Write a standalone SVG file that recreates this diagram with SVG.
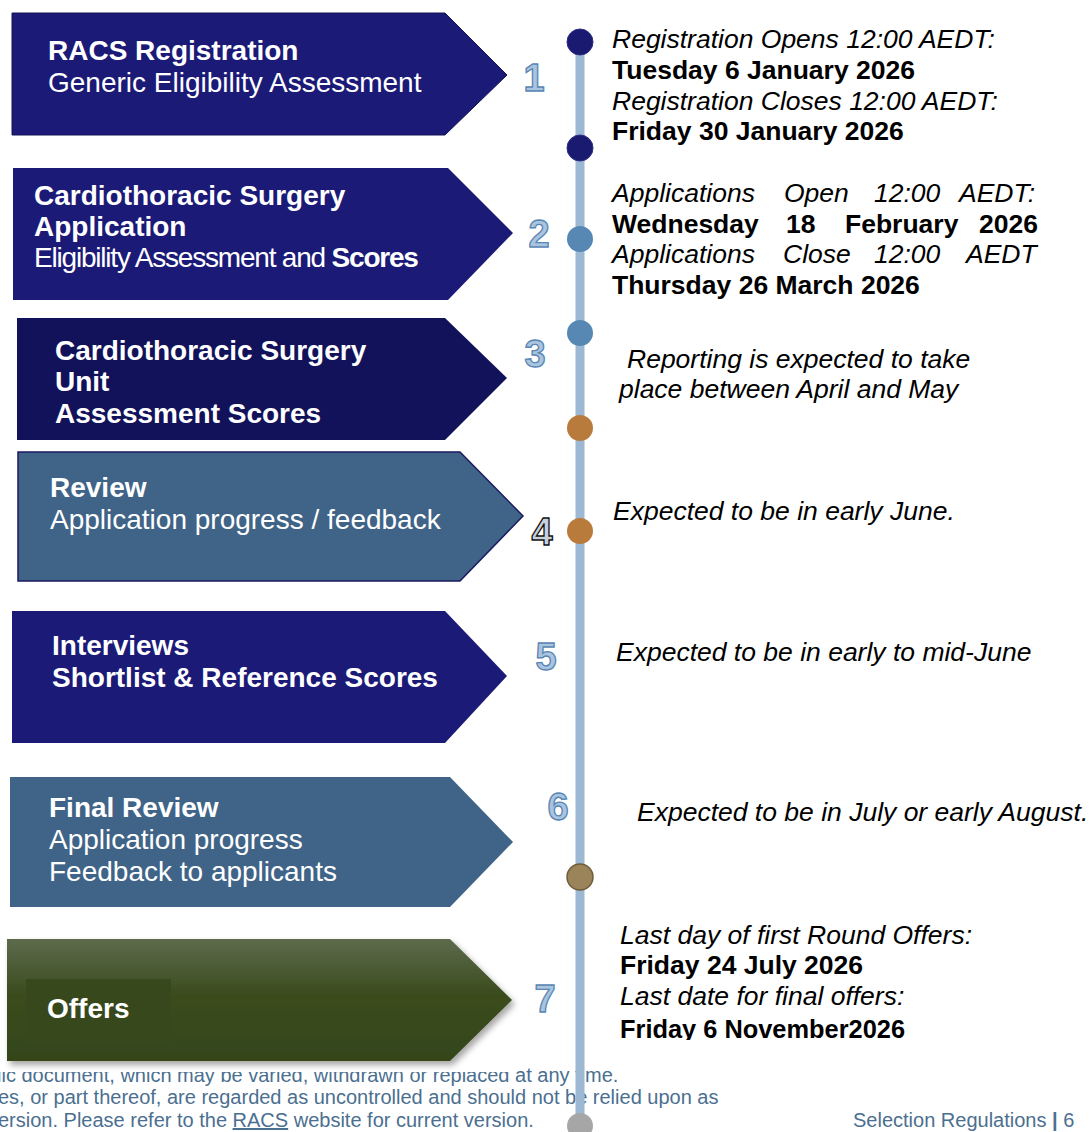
<svg xmlns="http://www.w3.org/2000/svg" width="1091" height="1132" viewBox="0 0 1091 1132">
<defs>
<style>
.t{font-family:"Liberation Sans",Arial,sans-serif;fill:#fff;font-size:28px}
.b{font-weight:bold}
.r{font-family:"Liberation Sans",Arial,sans-serif;fill:#000;font-size:26.5px}
.i{font-style:italic}
.num{font-family:"Liberation Sans",Arial,sans-serif;font-weight:bold;font-size:38px;fill:#a9c4df;stroke:#5a86b3;stroke-width:1.3;text-anchor:middle}
.foot{font-family:"Liberation Sans",Arial,sans-serif;font-size:20px;fill:#4b6f90}
.navy{fill:#1b1a77}
.steel{fill:#3f6487}
.dot-navy{fill:#1a1a70;stroke:#2c2c85;stroke-width:1}
.dot-steel{fill:#5688b3}
.dot-orange{fill:#b97b3c}
</style>
<linearGradient id="green" x1="0" y1="0" x2="0" y2="1">
<stop offset="0" stop-color="#5d6b4c"/>
<stop offset="0.45" stop-color="#3b4c1f"/>
<stop offset="1" stop-color="#344519"/>
</linearGradient>
<filter id="sh" x="-5%" y="-5%" width="115%" height="125%">
<feDropShadow dx="3" dy="4" stdDeviation="3" flood-color="#000" flood-opacity="0.35"/>
</filter>
<clipPath id="clipFoot1"><rect x="0" y="1072" width="516" height="25"/><rect x="516" y="1060" width="575" height="37"/></clipPath>
<clipPath id="clipLast"><rect x="600" y="1005" width="400" height="35"/></clipPath>
</defs>
<rect width="1091" height="1132" fill="#fff"/>

<g id="footer">
<text class="foot" x="-3" y="1082" clip-path="url(#clipFoot1)">lic document, which may be varied, withdrawn or replaced at any time.</text>
<text class="foot" x="-2" y="1104">es, or part thereof, are regarded as uncontrolled and should not be relied upon as</text>
<text class="foot" x="-2" y="1127">ersion. Please refer to the <tspan text-decoration="underline">RACS</tspan> website for current version.</text>
<text class="foot" x="853" y="1127">Selection Regulations <tspan font-weight="bold">|</tspan> 6</text>
</g>

<g id="connectors">
<line x1="580" y1="42" x2="580" y2="1132" stroke="#9cb8d3" stroke-width="9"/>
</g>

<g id="node-1">
<polygon class="navy" points="12,13 445,13 507,75 445,135 12,135" stroke="#14145a" stroke-width="1"/>
<text class="t b" x="48" y="60">RACS Registration</text>
<text class="t" x="48" y="92">Generic Eligibility Assessment</text>
<text class="num" x="534" y="91">1</text>
</g>

<g id="node-2">
<polygon class="navy" points="13,168 448,168 513,233 448,300 13,300"/>
<text class="t b" x="34" y="205">Cardiothoracic Surgery</text>
<text class="t b" x="34" y="236">Application</text>
<text class="t" x="34" y="267" font-size="25.5" letter-spacing="-1.2">Eligibility Assessment and <tspan font-weight="bold">Scores</tspan></text>
<text class="num" x="539" y="247">2</text>
</g>

<g id="node-3">
<polygon points="17,318 445,318 507,378 445,440 17,440" fill="#12125a"/>
<text class="t b" x="55" y="360">Cardiothoracic Surgery</text>
<text class="t b" x="55" y="391">Unit</text>
<text class="t b" x="55" y="423">Assessment Scores</text>
<text class="num" x="535" y="367">3</text>
</g>

<g id="node-4">
<polygon class="steel" points="18,452 460,452 523,516 460,581 18,581" stroke="#1a1a60" stroke-width="1.5"/>
<text class="t b" x="50" y="497">Review</text>
<text class="t" x="50" y="529">Application progress / feedback</text>
<text class="num" x="542" y="545" style="fill:#c9d2dc;stroke:#111">4</text>
</g>

<g id="node-5">
<polygon class="navy" points="12,611 445,611 507,676 445,743 12,743"/>
<text class="t b" x="52" y="655">Interviews</text>
<text class="t b" x="52" y="687">Shortlist &amp; Reference Scores</text>
<text class="num" x="546" y="670">5</text>
</g>

<g id="node-6">
<polygon class="steel" points="10,777 450,777 513,842 450,907 10,907"/>
<text class="t b" x="49" y="817">Final Review</text>
<text class="t" x="49" y="849">Application progress</text>
<text class="t" x="49" y="881">Feedback to applicants</text>
<text class="num" x="558" y="820">6</text>
</g>

<g id="node-7">
<polygon points="7,939 450,939 512,1000 450,1061 7,1061" fill="url(#green)" filter="url(#sh)"/>
<rect x="26" y="979" width="145" height="64" fill="#37491c"/>
<text class="t b" x="47" y="1018">Offers</text>
<text class="num" x="545" y="1012">7</text>
</g>

<g id="milestones">
<circle class="dot-navy" cx="580" cy="42" r="13"/>
<circle class="dot-navy" cx="580" cy="148" r="13"/>
<circle class="dot-steel" cx="580" cy="239" r="13"/>
<circle class="dot-steel" cx="580" cy="333" r="13"/>
<circle class="dot-orange" cx="580" cy="428" r="13"/>
<circle class="dot-orange" cx="580" cy="531" r="13"/>
<circle cx="580" cy="877" r="13" fill="#9b8459" stroke="#6e5c3a" stroke-width="1.5"/>
<circle cx="580" cy="1126" r="13" fill="#a6a6a6"/>
</g>

<g id="dates">
<text class="r i" x="612" y="48">Registration Opens 12:00 AEDT:</text>
<text class="r b" x="612" y="79">Tuesday 6 January 2026</text>
<text class="r i" x="612" y="110">Registration Closes 12:00 AEDT:</text>
<text class="r b" x="612" y="140">Friday 30 January 2026</text>

<text class="r i" y="202"><tspan x="612">Applications</tspan><tspan x="784">Open</tspan><tspan x="874">12:00</tspan><tspan x="959">AEDT:</tspan></text>
<text class="r b" y="233"><tspan x="612">Wednesday</tspan><tspan x="786">18</tspan><tspan x="845">February</tspan><tspan x="979">2026</tspan></text>
<text class="r i" y="263"><tspan x="612">Applications</tspan><tspan x="783">Close</tspan><tspan x="874">12:00</tspan><tspan x="966">AEDT</tspan></text>
<text class="r b" x="612" y="294">Thursday 26 March 2026</text>

<text class="r i" x="627" y="368">Reporting is expected to take</text>
<text class="r i" x="619" y="398">place between April and May</text>

<text class="r i" x="613" y="520">Expected to be in early June.</text>
<text class="r i" x="616" y="661">Expected to be in early to mid-June</text>
<text class="r i" x="637" y="821">Expected to be in July or early August.</text>

<text class="r i" x="620" y="944">Last day of first Round Offers:</text>
<text class="r b" x="620" y="974">Friday 24 July 2026</text>
<text class="r i" x="620" y="1005">Last date for final offers:</text>
<text class="r b" x="620" y="1038" textLength="285" lengthAdjust="spacingAndGlyphs" clip-path="url(#clipLast)">Friday 6 November2026</text>
</g>
</svg>
